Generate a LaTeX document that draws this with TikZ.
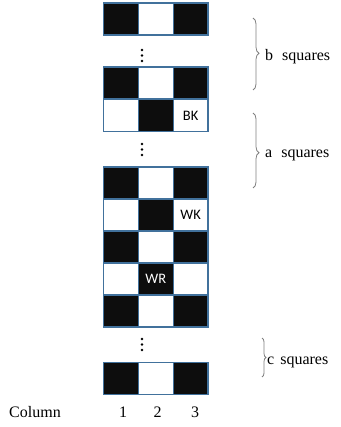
\documentclass[tikz,border=0pt]{standalone}
\usepackage{fontspec}
\setmainfont{Liberation Serif}
\newfontfamily\calib{Carlito}
\usetikzlibrary{decorations.pathreplacing}
\definecolor{edgeblue}{HTML}{41719C}
\definecolor{sqblack}{HTML}{0D0D0D}
\definecolor{bracegray}{HTML}{808080}
\tikzset{
  cell/.style={minimum width=34.8pt,minimum height=32pt,inner sep=0pt,draw=edgeblue,line width=1.2pt,font=\calib\fontsize{14.5}{14.5}\selectfont},
  bsq/.style={cell,fill=sqblack,text=white},
  wsq/.style={cell,fill=white,text=black},
  lbl/.style={inner sep=0pt,font=\fontsize{16}{16}\selectfont},
  dotc/.style={fill=black},
  bracestyle/.style={draw=bracegray,line width=0.8pt,decorate}
}
\begin{document}
\begin{tikzpicture}[x=1pt,y=-1pt]
\useasboundingbox (0,0) rectangle (340,427);
% top row
\node[bsq] (a1) at (121,19) {};
\node[wsq] (a2) at (155.8,19) {};
\node[bsq] (a3) at (190.6,19) {};
% second block
\node[bsq] (b11) at (121,83) {};
\node[wsq] (b12) at (155.8,83) {};
\node[bsq] (b13) at (190.6,83) {};
\node[wsq] (b21) at (121,115.5) {};
\node[bsq] (b22) at (155.8,115.5) {};
\node[wsq] (b23) at (190.6,115.5) {BK};
% third block
\node[bsq] (c11) at (121,183) {};
\node[wsq] (c12) at (155.8,183) {};
\node[bsq] (c13) at (190.6,183) {};
\node[wsq] (c21) at (121,215) {};
\node[bsq] (c22) at (155.8,215) {};
\node[wsq] (c23) at (190.6,215) {WK};
\node[bsq] (c31) at (121,247) {};
\node[wsq] (c32) at (155.8,247) {};
\node[bsq] (c33) at (190.6,247) {};
\node[wsq] (c41) at (121,279) {};
\node[bsq] (c42) at (155.8,279) {WR};
\node[wsq] (c43) at (190.6,279) {};
\node[bsq] (c51) at (121,311) {};
\node[wsq] (c52) at (155.8,311) {};
\node[bsq] (c53) at (190.6,311) {};
% last row
\node[bsq] (d1) at (121,378.5) {};
\node[wsq] (d2) at (155.8,378.5) {};
\node[bsq] (d3) at (190.6,378.5) {};
% vertical dots
\foreach \y in {50,55.5,61,144,149.5,155,339,344.5,350}
  \fill[dotc] (142,\y) circle (1.3pt);
% braces
\draw[bracestyle,decoration={brace,amplitude=6pt,aspect=0.49}] (253,18) -- (253,90);
\draw[bracestyle,decoration={brace,amplitude=6pt,aspect=0.53}] (253,113) -- (253,188);
\draw[bracestyle,decoration={brace,amplitude=4pt,aspect=0.5}] (262,338) -- (262,377);
% labels
\node[lbl,anchor=base west] (lb) at (265,61) {b\hspace{9pt}squares};
\node[lbl,anchor=base west] (la) at (265,158) {a\hspace{9pt}squares};
\node[lbl,anchor=base west] (lc) at (267,364) {c\hspace{6pt}squares};
\node[lbl,anchor=base west] (col) at (9,417) {Column};
\node[lbl,anchor=base] (n1) at (123,417) {1};
\node[lbl,anchor=base] (n2) at (157.5,417) {2};
\node[lbl,anchor=base] (n3) at (195,417) {3};
\end{tikzpicture}
\end{document}
